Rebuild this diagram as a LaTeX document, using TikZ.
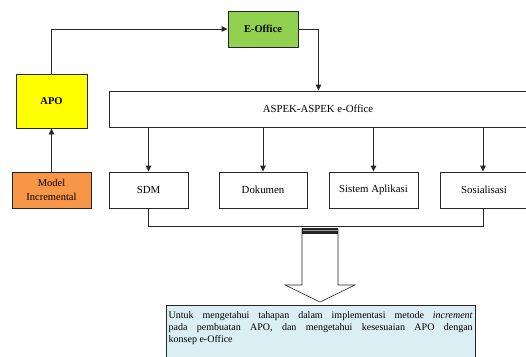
\documentclass[tikz,border=0pt]{standalone}
\usepackage{fontspec}
\setmainfont{Liberation Serif}
\usetikzlibrary{arrows.meta}
\definecolor{eogreen}{HTML}{92D050}
\definecolor{apoyellow}{HTML}{FFFF00}
\definecolor{modorange}{HTML}{F79646}
\definecolor{goalblue}{HTML}{DBEEF3}
\begin{document}
\begin{tikzpicture}[x=1pt,y=-1pt,
  box/.style={draw=black!85,line width=0.9pt,fill=white,inner sep=0pt,minimum height=36pt,align=center,font=\fontsize{10.8}{13}\selectfont},
  conn/.style={line width=0.9pt,draw=black!85,-{Triangle[length=6pt,width=5.5pt]}},
  plain/.style={line width=0.9pt,draw=black!85}]
\useasboundingbox (0,0) rectangle (526,356);
\node[box,fill=eogreen,minimum width=70pt,font=\fontsize{10.5}{12}\selectfont\bfseries] (eo) at (263,29) {E-Office};
\node[box,fill=apoyellow,minimum width=71pt,minimum height=54pt,font=\fontsize{10.5}{12}\selectfont\bfseries] (apo) at (51.5,101) {APO};
\node[box,minimum width=419pt] (aspek) at (318.5,109) {};
\node[font=\fontsize{10.8}{13}\selectfont] (aspektxt) at (318,109) {ASPEK-ASPEK e-Office};
\node[box,fill=modorange,minimum width=79pt,font=\fontsize{10.5}{14}\selectfont] (model) at (51.5,190) {Model\\Incremental};
\node[box,minimum width=79pt] (sdm) at (148.5,190) {SDM};
\node[box,minimum width=88pt] (dok) at (263,190) {Dokumen};
\node[box,minimum width=89pt] (sis) at (373.5,190) {Sistem Aplikasi};
\node[box,minimum width=88pt] (sos) at (484,190) {Sosialisasi};
\draw[conn] (apo.north) |- (eo.west);
\draw[conn] (eo.east) -| (aspek.north);
\draw[conn] (model.north) -- (apo.south);
\draw[conn] (sdm.north |- aspek.south) -- (sdm.north);
\draw[conn] (dok.north |- aspek.south) -- (dok.north);
\draw[conn] (sis.north |- aspek.south) -- (sis.north);
\draw[conn] ([xshift=-1pt]sos.north |- aspek.south) -- ([xshift=-1pt]sos.north);
\coordinate (bl) at (148.5,226);
\draw[plain] (sdm.south) -- (bl) -| ([xshift=-1pt]sos.south);
% goal box
\node[draw=black!85,line width=0.9pt,fill=goalblue,minimum width=309pt,minimum height=60pt,anchor=north west,inner sep=0pt] (goal) at (166,305) {};
\node[anchor=north west,text width=304pt,align=justify,inner sep=0pt,font=\fontsize{10}{12}\selectfont] (goaltxt) at (168.5,311) {\hyphenpenalty=10000 Untuk mengetahui tahapan dalam implementasi metode \textit{increment}\linebreak pada pembuatan APO, dan mengetahui kesesuaian APO dengan\linebreak konsep e-Office};
% block arrow
\draw[line width=0.6pt,draw=black!85,fill=white] (302,229) -- (302,285) -- (285,285) -- (320,302) -- (355,285) -- (338,285) -- (338,229);
\fill[black!85] (302,227.5) rectangle (338,233.5);
\fill[black!40] (302.5,229.8) rectangle (337.5,231.3);
\end{tikzpicture}
\end{document}
